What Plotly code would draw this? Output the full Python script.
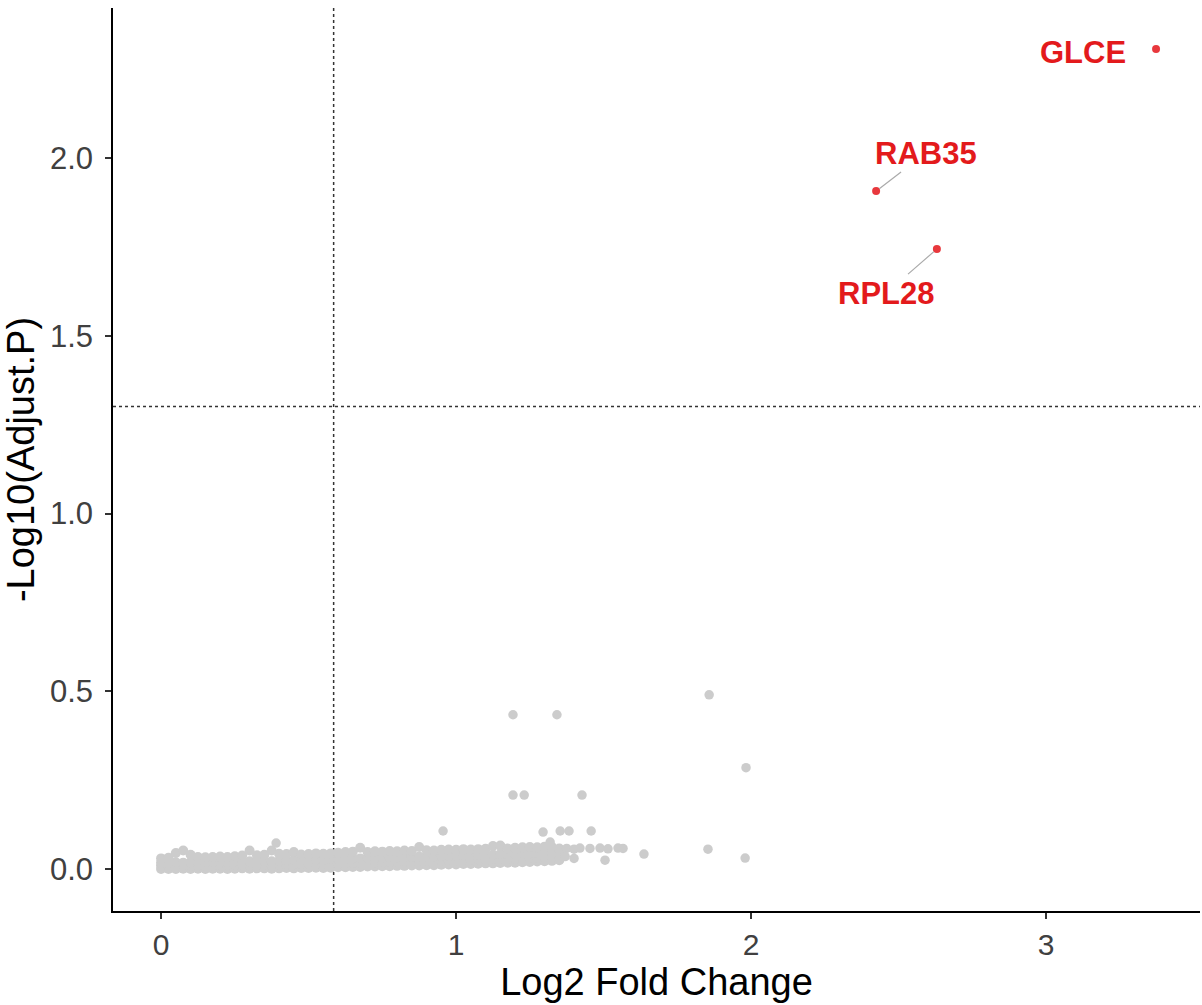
import plotly.graph_objects as go

# ---------------- data ----------------
# dense background band of non-significant genes
band_x = [0.000, 0.025, 0.050, 0.075, 0.100, 0.125, 0.150, 0.175, 0.200, 0.225,
          0.250, 0.275, 0.300, 0.325, 0.350, 0.375, 0.400, 0.425, 0.450, 0.475,
          0.500, 0.525, 0.550, 0.575, 0.600, 0.625, 0.650, 0.675, 0.700, 0.725,
          0.750, 0.775, 0.800, 0.825, 0.850, 0.875, 0.900, 0.925, 0.950, 0.975,
          1.000, 1.025, 1.050, 1.075, 1.100, 1.125, 1.150, 1.175, 1.200, 1.225,
          1.250, 1.275, 1.300, 1.325, 1.350]
band_lo = [0.000, 0.000, 0.000, 0.001, 0.000, 0.001, 0.000, 0.001, 0.001, 0.000,
           0.001, 0.002, 0.001, 0.002, 0.002, 0.001, 0.002, 0.003, 0.002, 0.003,
           0.003, 0.004, 0.003, 0.004, 0.005, 0.005, 0.006, 0.006, 0.007, 0.007,
           0.008, 0.008, 0.009, 0.009, 0.010, 0.010, 0.011, 0.011, 0.012, 0.013,
           0.013, 0.014, 0.014, 0.015, 0.016, 0.016, 0.017, 0.018, 0.018, 0.019,
           0.020, 0.021, 0.022, 0.023, 0.025]
band_q1 = [0.009, 0.008, 0.009, 0.010, 0.009, 0.010, 0.009, 0.010, 0.011, 0.010,
           0.011, 0.012, 0.011, 0.012, 0.012, 0.011, 0.013, 0.013, 0.013, 0.014,
           0.014, 0.015, 0.015, 0.016, 0.016, 0.017, 0.017, 0.018, 0.018, 0.019,
           0.019, 0.020, 0.021, 0.021, 0.022, 0.022, 0.023, 0.023, 0.024, 0.025,
           0.025, 0.026, 0.026, 0.027, 0.028, 0.028, 0.029, 0.030, 0.030, 0.031,
           0.032, 0.032, 0.033, 0.034, 0.035]
band_mid = [0.018, 0.017, 0.019, 0.018, 0.019, 0.020, 0.019, 0.020, 0.021, 0.020,
            0.021, 0.022, 0.022, 0.023, 0.023, 0.022, 0.024, 0.024, 0.025, 0.025,
            0.026, 0.027, 0.027, 0.028, 0.029, 0.029, 0.030, 0.030, 0.031, 0.032,
            0.032, 0.033, 0.033, 0.034, 0.034, 0.035, 0.035, 0.036, 0.037, 0.037,
            0.038, 0.038, 0.039, 0.040, 0.040, 0.041, 0.042, 0.042, 0.043, 0.044,
            0.044, 0.045, 0.046, 0.046, 0.047]
band_hi = [0.030, 0.032, 0.045, 0.052, 0.040, 0.034, 0.033, 0.034, 0.035, 0.034,
           0.036, 0.038, 0.052, 0.039, 0.040, 0.052, 0.043, 0.042, 0.048, 0.041,
           0.042, 0.044, 0.043, 0.044, 0.046, 0.048, 0.049, 0.060, 0.048, 0.050,
           0.049, 0.051, 0.050, 0.052, 0.051, 0.062, 0.053, 0.052, 0.054, 0.055,
           0.054, 0.056, 0.055, 0.056, 0.057, 0.065, 0.066, 0.058, 0.060, 0.061,
           0.062, 0.061, 0.063, 0.062, 0.058]

# sparse tail and isolated non-significant genes
other_x = [1.375, 1.400, 1.420, 1.454, 1.488, 1.515, 1.549, 1.566, 1.370, 1.400, 1.505,
           0.390, 0.956, 1.295, 1.353, 1.383, 1.458, 1.319, 1.637, 1.854, 1.980,
           1.193, 1.231, 1.427, 1.193, 1.342, 1.858, 1.983]
other_y = [0.058, 0.056, 0.059, 0.058, 0.059, 0.057, 0.059, 0.058, 0.035, 0.030, 0.025,
           0.073, 0.107, 0.104, 0.107, 0.107, 0.107, 0.076, 0.042, 0.056, 0.031,
           0.208, 0.208, 0.208, 0.434, 0.434, 0.490, 0.285]

# significant genes
sig_genes = ["GLCE", "RAB35", "RPL28"]
sig_x = [3.373, 2.424, 2.630]
sig_y = [2.307, 1.907, 1.744]
# label positions (ggrepel-like placement)
label_x = [3.125, 2.593, 2.458]
label_y = [2.298, 2.014, 1.620]
label_line = [False, True, True]

# thresholds
fc_cutoff = 0.585   # log2(1.5)
p_cutoff = 1.301    # -log10(0.05)

x_ticks = [0, 1, 2, 3]
y_ticks = [0.0, 0.5, 1.0, 1.5, 2.0]

# ---------------- figure ----------------
FONT = "Liberation Sans, Arial, sans-serif"
GRAY = "#CCCCCC"
RED_PT = "#E8383D"
RED_TXT = "#E31A1C"

bx = band_x * 4
by = band_lo + band_q1 + band_mid + band_hi

fig = go.Figure()
fig.add_trace(go.Scatter(x=bx, y=by, mode="markers",
                         marker=dict(color=GRAY, size=10, line=dict(width=0)),
                         hoverinfo="skip", showlegend=False))
fig.add_trace(go.Scatter(x=other_x, y=other_y, mode="markers",
                         marker=dict(color=GRAY, size=9.5, line=dict(width=0)),
                         hoverinfo="skip", showlegend=False))
fig.add_trace(go.Scatter(x=sig_x, y=sig_y, mode="markers",
                         marker=dict(color=RED_PT, size=8, line=dict(width=0)),
                         text=sig_genes, showlegend=False))

fig.add_vline(x=fc_cutoff, line=dict(color="#333333", width=1.5, dash="dot"), layer="below")
fig.add_hline(y=p_cutoff, line=dict(color="#333333", width=1.5, dash="dot"), layer="below")

for g, px, py, lx, ly, ln in zip(sig_genes, sig_x, sig_y, label_x, label_y, label_line):
    fig.add_annotation(x=px, y=py, ax=lx, ay=ly, axref="x", ayref="y", xref="x", yref="y",
                       text="<b>%s</b>" % g, showarrow=ln, arrowhead=0, arrowwidth=1.2,
                       arrowcolor="#AAAAAA", standoff=4, startstandoff=0,
                       font=dict(family=FONT, size=31, color=RED_TXT))
    if not ln:
        fig.layout.annotations[-1].update(x=lx, y=ly, showarrow=False)

fig.update_layout(
    width=1202, height=1005,
    margin=dict(l=113, r=2, t=8, b=94),
    paper_bgcolor="white", plot_bgcolor="white",
    font=dict(family=FONT, color="#000000"),
    showlegend=False,
)
fig.update_xaxes(range=[-0.163, 3.522], tickvals=x_ticks, ticktext=[str(v) for v in x_ticks],
                 showgrid=False, zeroline=False, showline=True, linecolor="#000000", linewidth=1.5,
                 ticks="outside", ticklen=6, tickwidth=1.5, tickcolor="#333333",
                 tickfont=dict(family=FONT, size=30, color="#404040"), ticklabelstandoff=0,
                 title=dict(text="Log2 Fold Change", font=dict(family=FONT, size=38, color="#000000"),
                            standoff=4))
fig.update_yaxes(range=[-0.118, 2.422], tickvals=y_ticks, ticktext=["%.1f" % v for v in y_ticks],
                 showgrid=False, zeroline=False, showline=True, linecolor="#000000", linewidth=1.5,
                 ticks="outside", ticklen=6, tickwidth=1.5, tickcolor="#333333",
                 tickfont=dict(family=FONT, size=31, color="#404040"), ticklabelstandoff=6,
                 title=dict(text="-Log10(Adjust.P)", font=dict(family=FONT, size=38, color="#000000"),
                            standoff=8))

fig.write_html("out.html")
